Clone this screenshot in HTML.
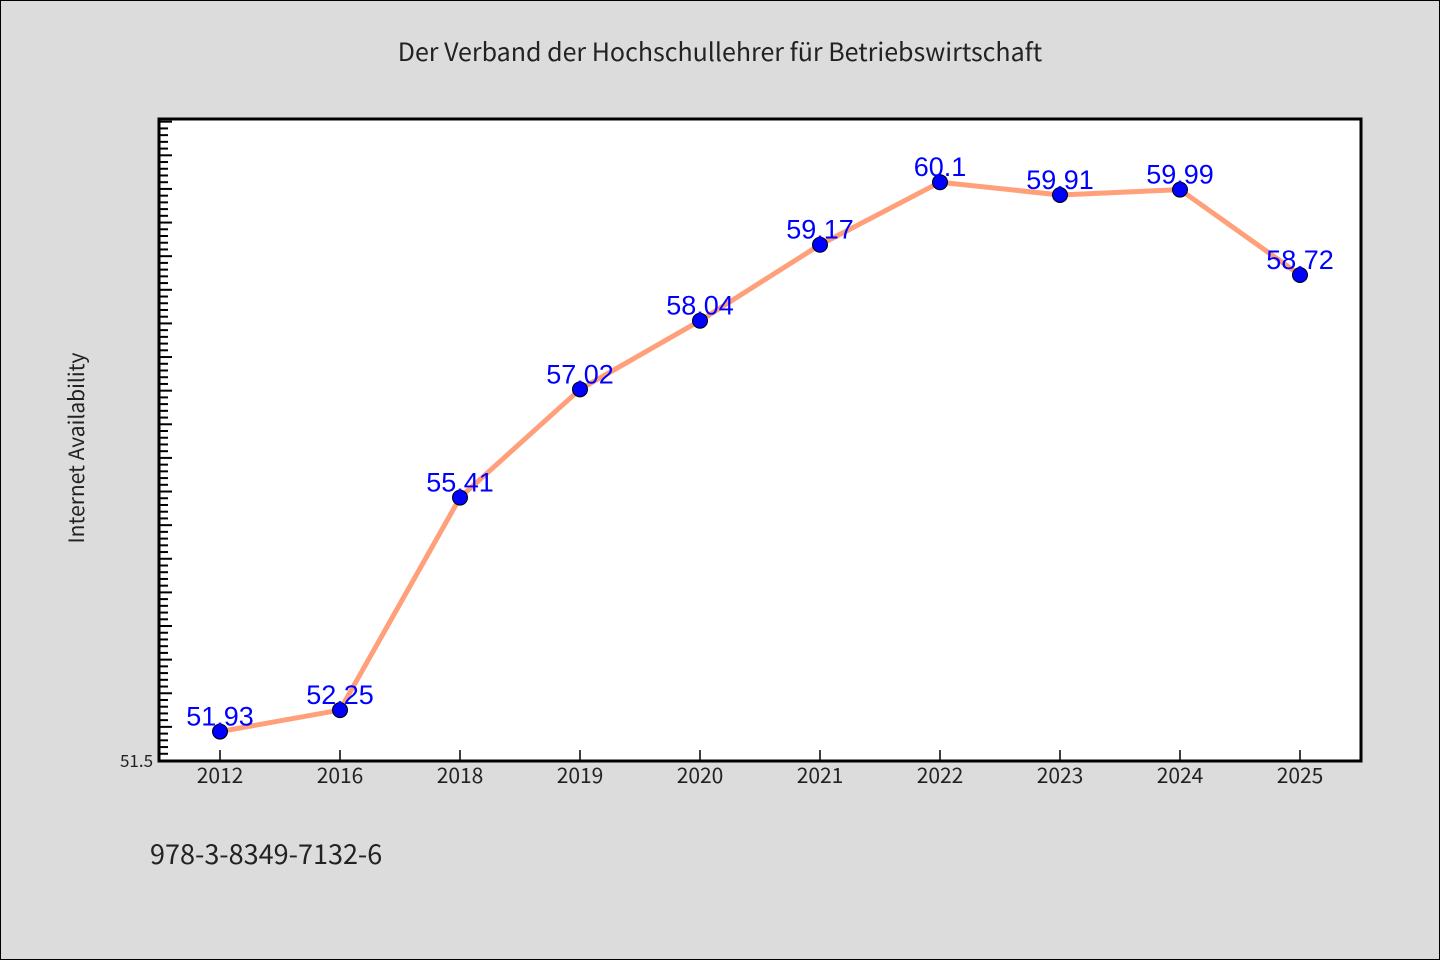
<!DOCTYPE html>
<html><head><meta charset="utf-8"><style>
body{margin:0;background:#dcdcdc;}
svg{display:block;font-family:"Noto Sans CJK JP","Liberation Sans",sans-serif;}
</style></head><body>
<svg id="c" width="1440" height="960">
<rect x="0.5" y="0.5" width="1439" height="959" fill="#dcdcdc" stroke="#000"/>
<text x="720" y="61" text-anchor="middle" font-size="25" fill="#222" style="font-family:'Noto Sans CJK JP',monospace">Der Verband der Hochschullehrer für Betriebswirtschaft</text>
<rect x="159" y="119" width="1202" height="642" fill="#fff" stroke="#000" stroke-width="3"/>
<text transform="translate(84,448) rotate(-90)" text-anchor="middle" font-size="21" fill="#222">Internet Availability</text>
<text x="150" y="864" font-size="27" fill="#222">978-3-8349-7132-6</text>
<g id="ticks"></g><g id="xl"></g><path id="line" fill="none" stroke="#ffa07a" stroke-width="5" stroke-linejoin="round"/><g id="pts"></g>
</svg>
<script>
const categories=["2012","2016","2018","2019","2020","2021","2022","2023","2024","2025"];
const values=[51.93,52.25,55.41,57.02,58.04,59.17,60.1,59.91,59.99,58.72];
const valueLabels=["51.93","52.25","55.41","57.02","58.04","59.17","60.1","59.91","59.99","58.72"];
const yMin=51.5,yMax=61.04;
const NS="http://www.w3.org/2000/svg";
const y=v=>760.5-(v-yMin)*(641.5/(yMax-yMin));
const x=i=>220+i*120;
function mk(t,a,p){const e=document.createElementNS(NS,t);for(const k in a)e.setAttribute(k,a[k]);p.appendChild(e);return e;}
const tk=document.getElementById('ticks');
for(let k=1;;k++){const v=yMin+k*0.1;if(v>yMax)break;const L=(k%5===0)?12:8;
const t=mk('line',{x1:160,x2:160+L,y1:y(v),y2:y(v),stroke:'#000','stroke-width':2},tk);

}
const yl=mk('text',{x:153,y:767,'text-anchor':'end','font-size':17,fill:'#222'},tk);yl.textContent="51.5";


const xl=document.getElementById('xl');
categories.forEach((c,i)=>{const t=mk('line',{x1:x(i),x2:x(i),y1:760,y2:750,stroke:'#000','stroke-width':1.5},xl);


const l=mk('text',{x:x(i),y:783,'text-anchor':'middle','font-size':21,fill:'#222'},xl);l.textContent=c;

});
document.getElementById('line').setAttribute('d',values.map((v,i)=>(i?'L':'M')+x(i)+','+y(v)).join(''));
const pts=document.getElementById('pts');
values.forEach((v,i)=>{const c=mk('circle',{cx:x(i),cy:y(v),r:7.5,fill:'#0000ff',stroke:'#000','stroke-width':1},pts);


const t=mk('text',{x:x(i),y:y(v)-6,'text-anchor':'middle','font-size':27,fill:'#0000ff','font-family':'Liberation Sans, sans-serif'},pts);t.textContent=valueLabels[i];

});
</script>
</body></html>
